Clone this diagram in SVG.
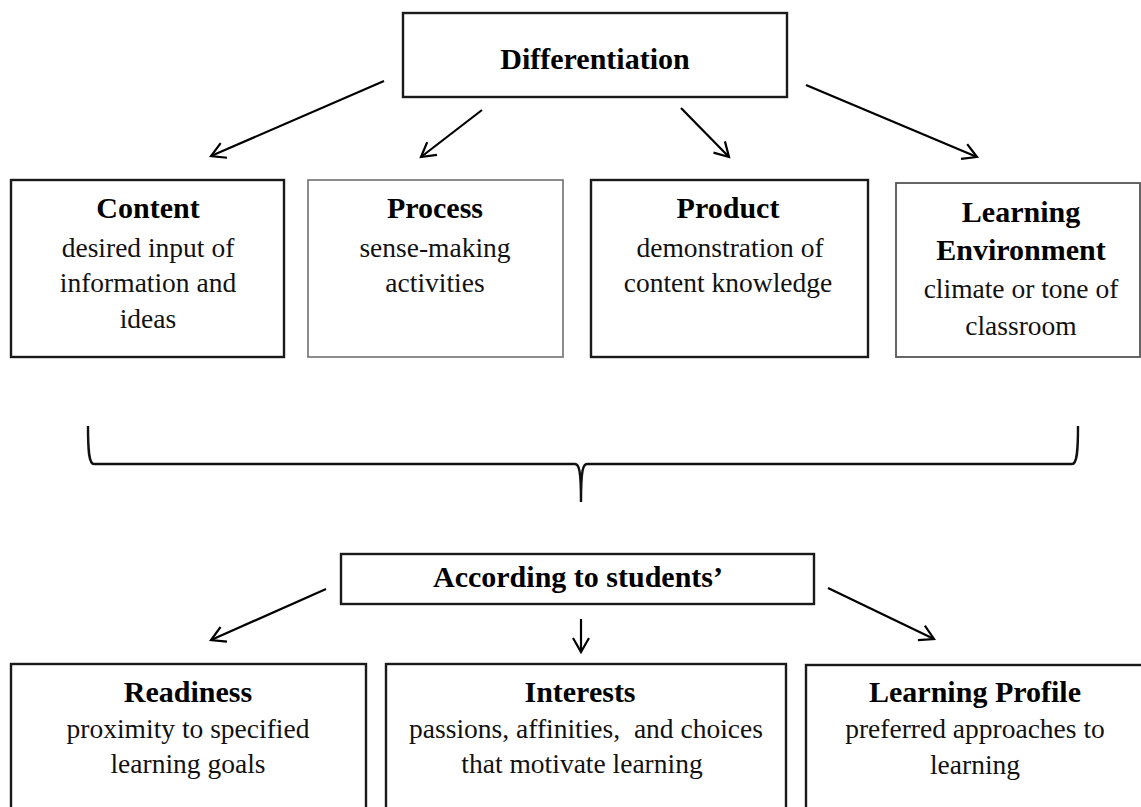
<svg xmlns="http://www.w3.org/2000/svg" width="1141" height="807" viewBox="0 0 1141 807">
<style>
.box{fill:#fff;stroke:#1a1a1a;stroke-width:2.4}
.thin{fill:#fff;stroke:#707070;stroke-width:1.6}
.mid{fill:#fff;stroke:#555;stroke-width:1.8}
.b{font-family:"Liberation Serif","Times New Roman",serif;font-weight:bold;font-size:30px;fill:#000;text-anchor:middle}
.r{font-family:"Liberation Serif","Times New Roman",serif;font-size:27.5px;fill:#111;text-anchor:middle}
.arr{fill:none;stroke:#000;stroke-width:2.2;marker-end:url(#ah)}
</style>
<defs>
<marker id="ah" markerUnits="userSpaceOnUse" markerWidth="22" markerHeight="22" refX="16" refY="9" orient="auto" viewBox="0 0 22 18">
<path d="M2,1 L16,9 L2,17" fill="none" stroke="#000" stroke-width="2.2"/>
</marker>
</defs>
<rect width="1141" height="807" fill="#fff"/>
<g id="differentiation">
<rect class="box" x="403" y="13" width="384" height="84"/>
<text class="b" x="595" y="69">Differentiation</text>
</g>
<g id="content">
<rect class="box" x="11" y="180" width="273" height="177"/>
<text class="b" x="148" y="218">Content</text>
<text class="r" x="148" y="257">desired input of</text>
<text class="r" x="148" y="292">information and</text>
<text class="r" x="148" y="328">ideas</text>
</g>
<g id="process">
<rect class="thin" x="308" y="180" width="255" height="177"/>
<text class="b" x="435" y="218">Process</text>
<text class="r" x="435" y="257">sense-making</text>
<text class="r" x="435" y="292">activities</text>
</g>
<g id="product">
<rect class="box" x="591" y="180" width="277" height="177"/>
<text class="b" x="728" y="218">Product</text>
<text class="r" x="730" y="257">demonstration of</text>
<text class="r" x="728" y="292">content knowledge</text>
</g>
<g id="learning-environment">
<rect class="mid" x="896" y="183" width="244" height="174"/>
<text class="b" x="1021" y="222">Learning</text>
<text class="b" x="1021" y="260">Environment</text>
<text class="r" x="1021" y="298">climate or tone of</text>
<text class="r" x="1021" y="335">classroom</text>
</g>
<g id="according">
<rect class="box" x="341" y="554" width="473" height="50"/>
<text class="b" x="578" y="587">According to students’</text>
</g>
<g id="readiness">
<rect class="box" x="11" y="664" width="355" height="160"/>
<text class="b" x="188" y="702">Readiness</text>
<text class="r" x="188" y="738">proximity to specified</text>
<text class="r" x="188" y="773">learning goals</text>
</g>
<g id="interests">
<rect class="box" x="386" y="664" width="400" height="160"/>
<text class="b" x="580" y="702">Interests</text>
<text class="r" x="586" y="738" xml:space="preserve">passions, affinities,  and choices</text>
<text class="r" x="582" y="773">that motivate learning</text>
</g>
<g id="learning-profile">
<rect class="box" x="806" y="665" width="345" height="160"/>
<text class="b" x="975" y="702">Learning Profile</text>
<text class="r" x="975" y="738">preferred approaches to</text>
<text class="r" x="975" y="774">learning</text>
</g>
<g id="connectors">
<line class="arr" x1="384" y1="81" x2="211" y2="156"/>
<line class="arr" x1="482" y1="110" x2="421" y2="157"/>
<line class="arr" x1="681" y1="108" x2="729" y2="157"/>
<line class="arr" x1="806" y1="85" x2="977" y2="157"/>
<path d="M88 426 C88 452 89 464 94 464 H575 C579 464 581 470 581 502 C581 470 583 464 587 464 H1072 C1077 464 1078 452 1078 426" fill="none" stroke="#111" stroke-width="2.4"/>
<line class="arr" x1="326" y1="589" x2="211" y2="640"/>
<line class="arr" x1="581" y1="619" x2="581" y2="652"/>
<line class="arr" x1="828" y1="588" x2="934" y2="639"/>
</g>
</svg>
